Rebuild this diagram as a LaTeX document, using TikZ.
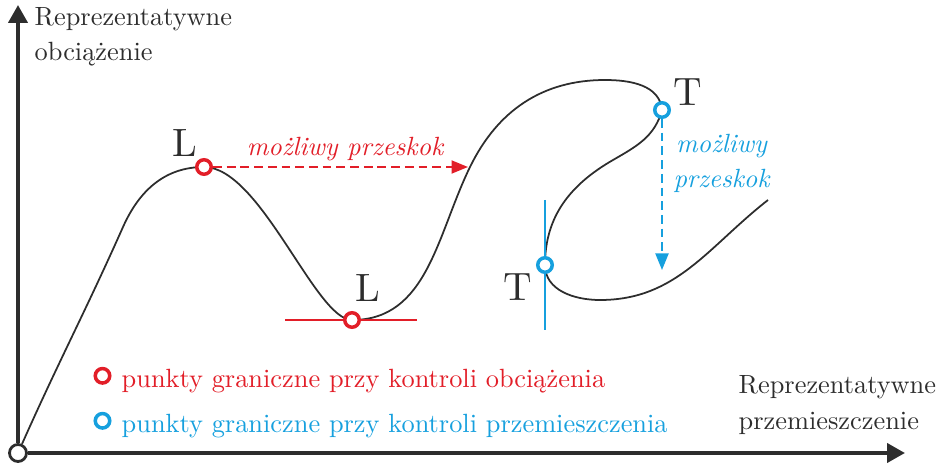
\documentclass[tikz,border=0pt]{standalone}
\usepackage{fontspec}
\setmainfont{lmroman10-regular.otf}[ItalicFont=lmroman10-italic.otf]
\usetikzlibrary{arrows.meta,positioning}

\definecolor{axisgray}{RGB}{45,45,45}
\definecolor{loadred}{RGB}{226,30,40}
\definecolor{dispblue}{RGB}{22,160,222}

\begin{document}
\begin{tikzpicture}[every node/.style={font=\fontsize{15}{20.3}\selectfont},
  axis/.style={line width=2.3pt, axisgray, -{Triangle[length=0.36cm,width=0.38cm]}},
  curve/.style={line width=1pt, axisgray},
  limitpt/.style={circle, draw=#1, line width=2pt, fill=white, inner sep=0pt, minimum size=0.29cm},
  jump/.style={line width=1.1pt, dashed, dash pattern=on 5pt off 2.8pt, -{Triangle[length=0.33cm,width=0.26cm]}},
  ptlabel/.style={font=\fontsize{22.5}{27}\selectfont, text=axisgray}]
  \useasboundingbox (-0.36,-0.26) rectangle (18.54,9.06);

  % Axes
  \node[limitpt=axisgray, line width=1.6pt, minimum size=0.34cm] (O) at (0,0) {};
  \coordinate (ytip) at (0,8.96);
  \coordinate (xtip) at (17.74,0);
  \draw[axis] (O) -- (ytip);
  \draw[axis] (O) -- (xtip);
  \node[anchor=north west, align=left, text=axisgray] (ylab) at (0.21,9.04) {Reprezentatywne\\obciążenie};
  \node[anchor=north west, align=left, text=axisgray] (xlab) at (14.29,1.67) {Reprezentatywne\\przemieszczenie};

  % Equilibrium path
  \coordinate (c1) at (2.1,4.52);
  \coordinate (pL1) at (3.72,5.72);
  \coordinate (pL2) at (6.68,2.66);
  \coordinate (c2) at (9.04,5.72);
  \coordinate (c3) at (11.74,7.46);
  \coordinate (pT1) at (12.88,6.86);
  \coordinate (c4) at (11.9,5.86);
  \coordinate (pT2) at (10.54,3.76);
  \coordinate (c5) at (11.64,3.06);
  \coordinate (c6) at (15.0,5.06);
  \draw[curve] (O) to[out=66,in=246] (c1) to[out=66,in=180] (pL1)
    .. controls (4.85,5.72) and (5.95,2.66) .. (pL2)
    to[out=0,in=244] (c2) to[out=64,in=180] (c3) to[out=0,in=95] (pT1)
    to[out=-105,in=30] (c4) to[out=210,in=90] (pT2)
    to[out=-90,in=180] (c5) to[out=0,in=218] (c6);

  % Tangents
  \coordinate (tL2a) at (5.34,2.66);
  \coordinate (tL2b) at (7.98,2.66);
  \draw[loadred, line width=1pt] (tL2a) -- (tL2b);
  \coordinate (tT2a) at (10.54,5.06);
  \coordinate (tT2b) at (10.54,2.46);
  \draw[dispblue, line width=1pt] (tT2a) -- (tT2b);

  % Limit points
  \node[limitpt=loadred] (L1) at (pL1) {};
  \node[limitpt=loadred] (L2) at (pL2) {};
  \node[limitpt=dispblue] (T1) at (pT1) {};
  \node[limitpt=dispblue] (T2) at (pT2) {};
  \node[ptlabel] (L1lab) at (3.34,6.19) {L};
  \node[ptlabel] (L2lab) at (6.99,3.3) {L};
  \node[ptlabel] (T1lab) at (13.4,7.22) {T};
  \node[ptlabel] (T2lab) at (10.0,3.32) {T};

  % Snap-through / snap-back
  \coordinate (jumpL) at (9.0,5.72);
  \draw[jump, loadred] (L1) -- (jumpL);
  \node[text=loadred, font=\fontsize{15}{20}\selectfont\itshape] (jumpLtxt) at (6.54,6.08) {możliwy przeskok};
  \coordinate (jumpT) at (12.88,3.66);
  \draw[jump, dispblue] (T1) -- (jumpT);
  \node[text=dispblue, font=\fontsize{15}{20}\selectfont\itshape, align=center] (jumpTtxt) at (14.07,5.79) {możliwy\\przeskok};

  % Legend
  \node[limitpt=loadred] (lgR) at (1.69,1.544) {};
  \node[limitpt=dispblue] (lgB) at (1.69,0.644) {};
  \node[anchor=base west, text=loadred] (lgRtxt) at ([xshift=0.08cm,yshift=-0.23cm]lgR.east) {punkty graniczne przy kontroli obciążenia};
  \node[anchor=base west, text=dispblue] (lgBtxt) at ([xshift=0.08cm,yshift=-0.23cm]lgB.east) {punkty graniczne przy kontroli przemieszczenia};
\end{tikzpicture}
\end{document}
